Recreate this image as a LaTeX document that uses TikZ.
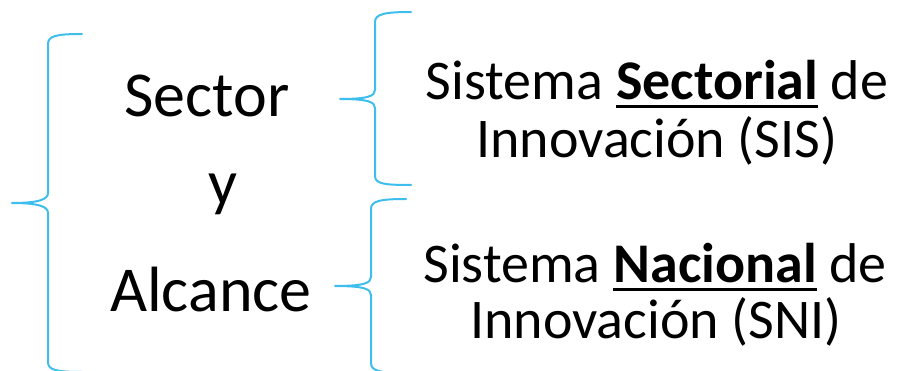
\documentclass[tikz,border=0pt]{standalone}
\usepackage{fontspec}
\setmainfont{Carlito}
\definecolor{bracecol}{RGB}{62,190,236}
\newcommand{\ulword}[1]{\setbox0\hbox{#1}\rlap{\rule[-8.5pt]{\wd0}{3pt}}\box0\relax}
\tikzset{
  bigtext/.style={anchor=base,inner sep=0pt,font=\fontsize{64}{66}\selectfont},
  systext/.style={anchor=base,inner sep=0pt,font=\fontsize{56}{58}\selectfont},
  bracepath/.style={draw=bracecol,line width=2pt,line cap=round,line join=round}
}
\begin{document}
\begin{tikzpicture}[x=1pt,y=1pt,yscale=-1,xscale=1]
\useasboundingbox (0,0) rectangle (897,371);

%Shape: Brace [left]
\draw [bracepath] (82,34) .. controls (56,34) and (48,36) .. (48,44) -- (48,193) .. controls (48,199) and (40,203) .. (12,203) .. controls (40,203) and (48,207) .. (48,213) -- (48,362) .. controls (48,370) and (56,372) .. (82,372) ;
%Shape: Brace [top right]
\draw [bracepath] (411,12) .. controls (385,12) and (375,14) .. (375,22) -- (375,90) .. controls (375,96) and (368,99) .. (340,99) .. controls (368,99) and (375,102) .. (375,108) -- (375,176) .. controls (375,184) and (385,185) .. (411,185) ;
%Shape: Brace [bottom right]
\draw [bracepath] (406,199) .. controls (380,199) and (371,201) .. (371,209) -- (371,277) .. controls (371,283) and (364,286) .. (335,286) .. controls (364,286) and (371,289) .. (371,295) -- (371,363) .. controls (371,371) and (380,373) .. (406,373) ;

% Text Node
\node [bigtext] (sector) at (207,117) {Sector};
% Text Node
\node [bigtext] (y) at (223,205) {y};
% Text Node
\node [bigtext] (alcance) at (211,312) {Alcance};
% Text Node
\node [systext] (sis1) at (657,100) {Sistema \ulword{\bfseries Sectorial} de};
% Text Node
\node [systext] (sis2) at (657,158) {Innovación (SIS)};
% Text Node
\node [systext] (sni1) at (655,283) {Sistema \ulword{\bfseries Nacional} de};
% Text Node
\node [systext] (sni2) at (656,338) {Innovación (SNI)};

\end{tikzpicture}
\end{document}
